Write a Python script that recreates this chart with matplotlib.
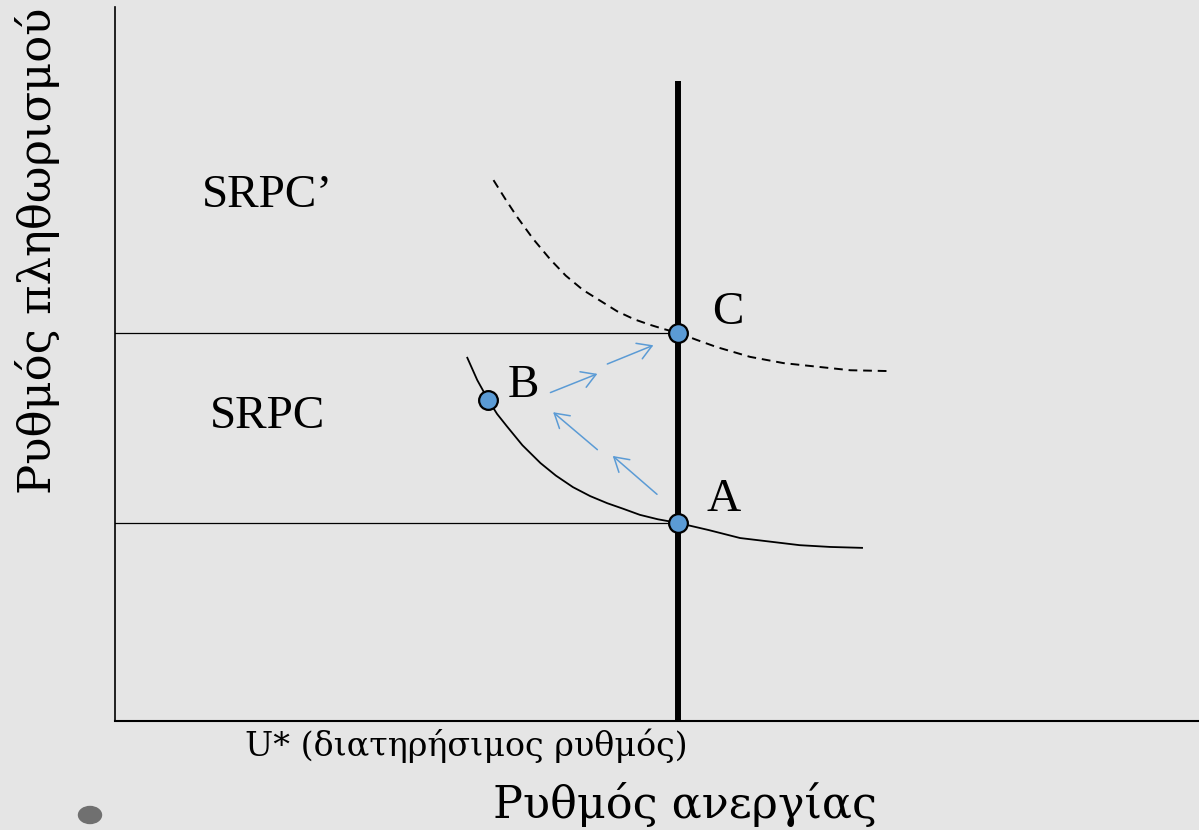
import matplotlib
matplotlib.use("Agg")
import matplotlib.pyplot as plt
from matplotlib.patches import Ellipse

plt.rcParams["font.family"] = ["Liberation Serif", "DejaVu Serif"]

# data (unemployment on x, inflation on y, arbitrary units)
u_star = 6.23
pi_a = 2.22
pi_c = 4.35
point_b = (4.13, 3.60)
lrpc_top = 7.17

srpc_x = [3.90, 4.01, 4.13, 4.23, 4.34, 4.51, 4.71, 4.88, 5.07, 5.26, 5.45,
          5.62, 5.81, 6.01, 6.23, 6.57, 6.92, 7.25, 7.58, 7.92, 8.27]
srpc_y = [4.07, 3.82, 3.60, 3.44, 3.30, 3.09, 2.89, 2.75, 2.62, 2.52, 2.44,
          2.38, 2.31, 2.26, 2.22, 2.14, 2.05, 2.01, 1.97, 1.95, 1.94]

srpc2_x = [4.19, 4.32, 4.45, 4.63, 4.82, 4.99, 5.18, 5.37, 5.56, 5.75, 5.92,
           6.08, 6.23, 6.44, 6.66, 7.03, 7.40, 7.77, 8.14, 8.60]
srpc2_y = [6.06, 5.85, 5.65, 5.40, 5.17, 4.99, 4.83, 4.71, 4.59, 4.50, 4.44,
           4.39, 4.35, 4.27, 4.19, 4.08, 4.01, 3.97, 3.93, 3.92]

# movement arrows: (start_x, start_y, end_x, end_y)
arrows = [
    (6.00, 2.54, 5.51, 2.97),
    (5.34, 3.04, 4.85, 3.46),
    (4.82, 3.68, 5.34, 3.89),
    (5.45, 4.00, 5.96, 4.21),
]

point_labels = ["A", "B", "C"]

BG = "#e5e5e5"
BLUE = "#5b9bd5"
W, H = 1199, 830
GREEK = ["DejaVu Serif"]

fig = plt.figure(figsize=(W / 100, H / 100), dpi=100)
fig.patch.set_facecolor(BG)

ax = fig.add_axes([115 / W, (H - 721) / H, (W - 115) / W, (721 - 7) / H])
ax.set_facecolor("none")
ax.set_xlim(0, 12)
ax.set_ylim(0, 8)
for side in ["top", "right"]:
    ax.spines[side].set_visible(False)
ax.spines["left"].set_linewidth(1.2)
ax.spines["bottom"].set_linewidth(1.5)
ax.set_xticks([])
ax.set_yticks([])

# guide lines
ax.plot([0, u_star], [pi_c, pi_c], color="black", lw=0.9)
ax.plot([0, u_star], [pi_a, pi_a], color="black", lw=0.9)

# curves
ax.plot(srpc_x, srpc_y, color="black", lw=1.3)
ax.plot(srpc2_x, srpc2_y, color="black", lw=1.4, linestyle=(0, (4.5, 3)))

# long-run vertical line
ax.plot([u_star, u_star], [0, lrpc_top], color="black", lw=4.3, solid_capstyle="butt")

for x0, y0, x1, y1 in arrows:
    ax.annotate("", xy=(x1, y1), xytext=(x0, y0),
                arrowprops=dict(arrowstyle="->, head_length=0.5, head_width=0.3",
                                color=BLUE, lw=1.1, mutation_scale=20,
                                shrinkA=0, shrinkB=0))

pts_x = [u_star, point_b[0], u_star]
pts_y = [pi_a, point_b[1], pi_c]
ax.plot(pts_x, pts_y, "o", ms=13.5, mfc=BLUE, mec="black", mew=1.6, zorder=5)

ax.text(6.74, 2.35, point_labels[0], fontsize=34, ha="center", va="baseline")
ax.text(4.52, 3.63, point_labels[1], fontsize=34, ha="center", va="baseline")
ax.text(6.78, 4.45, point_labels[2], fontsize=34, ha="center", va="baseline")

ax.text(0.96, 5.76, "SRPC\u2019", fontsize=34, ha="left", va="baseline")
ax.text(1.05, 3.28, "SRPC", fontsize=34, ha="left", va="baseline")

# axis titles
fig.text(493 / W, 1 - 818 / H, "Ρυθμός ανεργίας", fontsize=32, family=GREEK,
         ha="left", va="baseline")
fig.text(245 / W, 1 - 756 / H, "U* (διατηρήσιμος ρυθμός)", fontsize=24, family=GREEK,
         ha="left", va="baseline")
fig.text(38 / W, 1 - 251 / H, "Ρυθμός πληθωρισμού", fontsize=32.3, family=GREEK,
         rotation=90, ha="center", va="center")

fig.patches.append(Ellipse((90 / W, 1 - 815 / H), 23 / W, 17 / H,
                           transform=fig.transFigure, color="#707070"))

fig.savefig("out.png", dpi=100, facecolor=BG)
